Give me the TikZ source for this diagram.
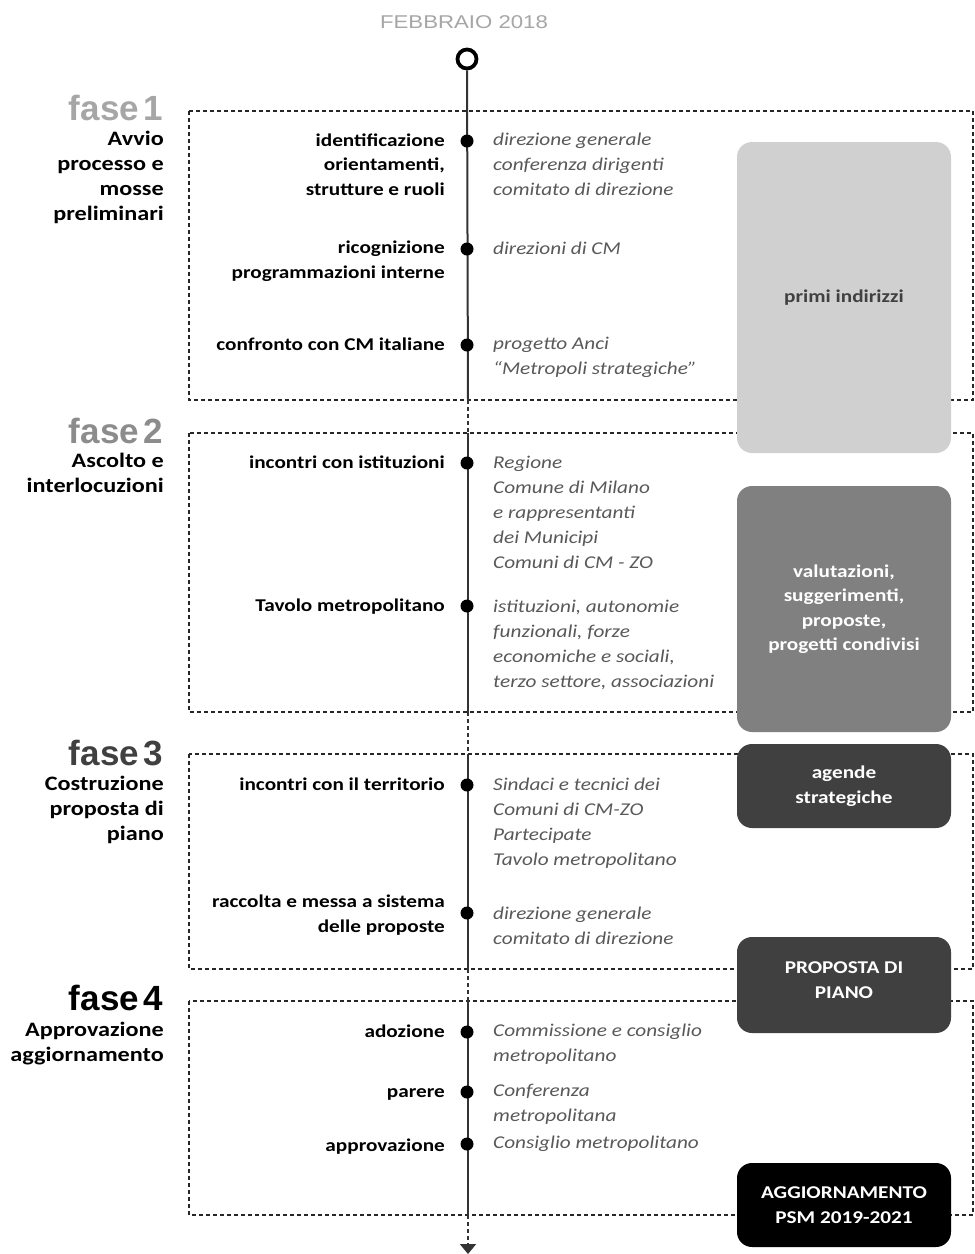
\documentclass[tikz,border=0pt]{standalone}
\usepackage{fontspec}
\setmainfont{Carlito}[FakeStretch=1.18]
\newfontfamily\arialf{Liberation Sans}[FakeStretch=1.2]
\newfontfamily\fasef{Liberation Sans}[WordSpace=0.45]
\usetikzlibrary{arrows.meta}
\definecolor{whogray}{HTML}{595959}
\definecolor{fgray1}{HTML}{A6A6A6}
\definecolor{fgray2}{HTML}{8C8C8C}
\definecolor{fgray3}{HTML}{404040}
\definecolor{boxA}{HTML}{D0D0D0}
\definecolor{boxB}{HTML}{808080}
\definecolor{boxC}{HTML}{404040}
\definecolor{tlgray}{HTML}{333333}
\begin{document}
\begin{tikzpicture}[x=1pt,y=-1pt,
  lbl/.style={font=\bfseries\fontsize{18}{24.5}\selectfont, align=right, anchor=base east, inner sep=0},
  who/.style={font=\itshape\fontsize{18}{24.8}\selectfont, text=whogray, align=left, anchor=base west, inner sep=0},
  phasedesc/.style={font=\bfseries\fontsize{20.5}{25}\selectfont, align=right, anchor=base east, inner sep=0},
  fasel/.style={font=\fasef\bfseries\fontsize{35}{35}\selectfont, anchor=base east, inner sep=0},
  tdot/.style={circle, fill=black, minimum size=13pt, inner sep=0},
  phasebox/.style={draw=black!85, dash pattern=on 4pt off 3pt, line width=1.1pt},
  outbox/.style={rounded corners=15pt, minimum width=214pt, inner sep=0, align=center, font=\bfseries\fontsize{18}{24.5}\selectfont},
  outtext/.style={inner sep=0, align=center, font=\bfseries\fontsize{18}{24.5}\selectfont},
  tl/.style={draw=tlgray, line width=2pt},
  tldash/.style={tl, dash pattern=on 4pt off 3pt}
]
\useasboundingbox (0,0) rectangle (975,1254);
\fill[white] (0,0) rectangle (975,1254);

% phase boxes
\draw[phasebox] (189,111) rectangle (973,400);
\draw[phasebox] (189,433) rectangle (973,712);
\draw[phasebox] (189,754) rectangle (973,969);
\draw[phasebox] (189,1001) rectangle (973,1215);

% title
\node[font=\arialf\fontsize{18.5}{18.5}\selectfont, text=fgray1, anchor=base, inner sep=0] (title) at (464,28) {FEBBRAIO 2018};

% timeline
\node[circle, draw=black, line width=3.8pt, minimum size=19pt, inner sep=0] (start) at (467,59) {};
\coordinate (b1b) at (468,400);
\coordinate (b2t) at (468,433);
\coordinate (b2b) at (468,712);
\coordinate (b3t) at (468,754);
\coordinate (b3b) at (468,969);
\coordinate (b4t) at (468,1001);
\coordinate (b4b) at (468,1215);
\coordinate (endp) at (468,1254);
\draw[tl] (start.south) -- (b1b);
\draw[tldash] (b1b) -- (b2t);
\draw[tl] (b2t) -- (b2b);
\draw[tldash] (b2b) -- (b3t);
\draw[tl] (b3t) -- (b3b);
\draw[tldash] (b3b) -- (b4t);
\draw[tl] (b4t) -- (b4b);
\draw[tldash, -{Triangle[width=16pt,length=10pt]}] (b4b) -- (endp);

% dots
\node[tdot] (d1) at (467,141) {};
\node[tdot] (d2) at (467,249) {};
\node[tdot] (d3) at (467,345) {};
\node[tdot] (d4) at (467,463) {};
\node[tdot] (d5) at (467,606) {};
\node[tdot] (d6) at (467,785) {};
\node[tdot] (d7) at (467,913) {};
\node[tdot] (d8) at (467,1032) {};
\node[tdot] (d9) at (467,1092) {};
\node[tdot] (d10) at (467,1144) {};

% fase labels
\node[fasel, text=fgray1] (f1) at (163,120) {fase 1};
\node[fasel, text=fgray2] (f2) at (163,443) {fase 2};
\node[fasel, text=fgray3] (f3) at (163,765) {fase 3};
\node[fasel, text=black] (f4) at (163,1010) {fase 4};

% phase descriptions (anchor = baseline of last line)
\node[phasedesc] (p1) at (164,220) {Avvio\\processo e\\mosse\\preliminari};
\node[phasedesc] (p2) at (164,492) {Ascolto e\\interlocuzioni};
\node[phasedesc] (p3) at (164,840) {Costruzione\\proposta di\\piano};
\node[phasedesc] (p4) at (164,1061) {Approvazione\\aggiornamento};

% activities
\node[lbl] (m1) at (445,195) {identificazione\\orientamenti,\\strutture e ruoli};
\node[lbl] (m2) at (445,278) {ricognizione\\programmazioni interne};
\node[lbl] (m3) at (445,350) {confronto con CM italiane};
\node[lbl] (m4) at (445,468) {incontri con istituzioni};
\node[lbl] (m5) at (445,611) {Tavolo metropolitano};
\node[lbl] (m6) at (445,790) {incontri con il territorio};
\node[lbl] (m7) at (445,932) {raccolta e messa a sistema\\delle proposte};
\node[lbl] (m8) at (445,1037) {adozione};
\node[lbl] (m9) at (445,1097) {parere};
\node[lbl] (m10) at (445,1151) {approvazione};

% actors
\node[who] (w1) at (493,195) {direzione generale\\conferenza dirigenti\\comitato di direzione};
\node[who] (w2) at (493,254) {direzioni di CM};
\node[who] (w3) at (493,374) {progetto Anci\\“Metropoli strategiche”};
\node[who] (w4) at (493,568) {Regione\\Comune di Milano\\e rappresentanti\\dei Municipi\\Comuni di CM - ZO};
\node[who] (w5) at (493,687) {istituzioni, autonomie\\funzionali, forze\\economiche e sociali,\\terzo settore, associazioni};
\node[who] (w6) at (493,865) {Sindaci e tecnici dei\\Comuni di CM-ZO\\Partecipate\\Tavolo metropolitano};
\node[who] (w7) at (493,944) {direzione generale\\comitato di direzione};
\node[who] (w8) at (493,1061) {Commissione e consiglio\\metropolitano};
\node[who] (w9) at (493,1121) {Conferenza\\metropolitana};
\node[who] (w10) at (493,1148) {Consiglio metropolitano};

% outcome boxes
\node[outbox, fill=boxA, text=fgray3, minimum height=311pt] (oA) at (844,297.5) {primi indirizzi};
\node[outbox, fill=boxB, text=white, minimum height=246pt] (oB) at (844,609) {valutazioni,\\suggerimenti,\\proposte,\\progetti condivisi};
\node[outbox, fill=boxC, text=white, minimum height=84pt] (oC) at (844,786) {agende\\strategiche};
\fill[boxC, rounded corners=15pt] (737,937) rectangle (951,1033);
\node[outtext, text=white] (oD) at (844,980) {PROPOSTA DI\\PIANO};
\node[outbox, fill=black, text=white, minimum height=84pt] (oE) at (844,1205) {AGGIORNAMENTO\\PSM 2019-2021};
\end{tikzpicture}
\end{document}
